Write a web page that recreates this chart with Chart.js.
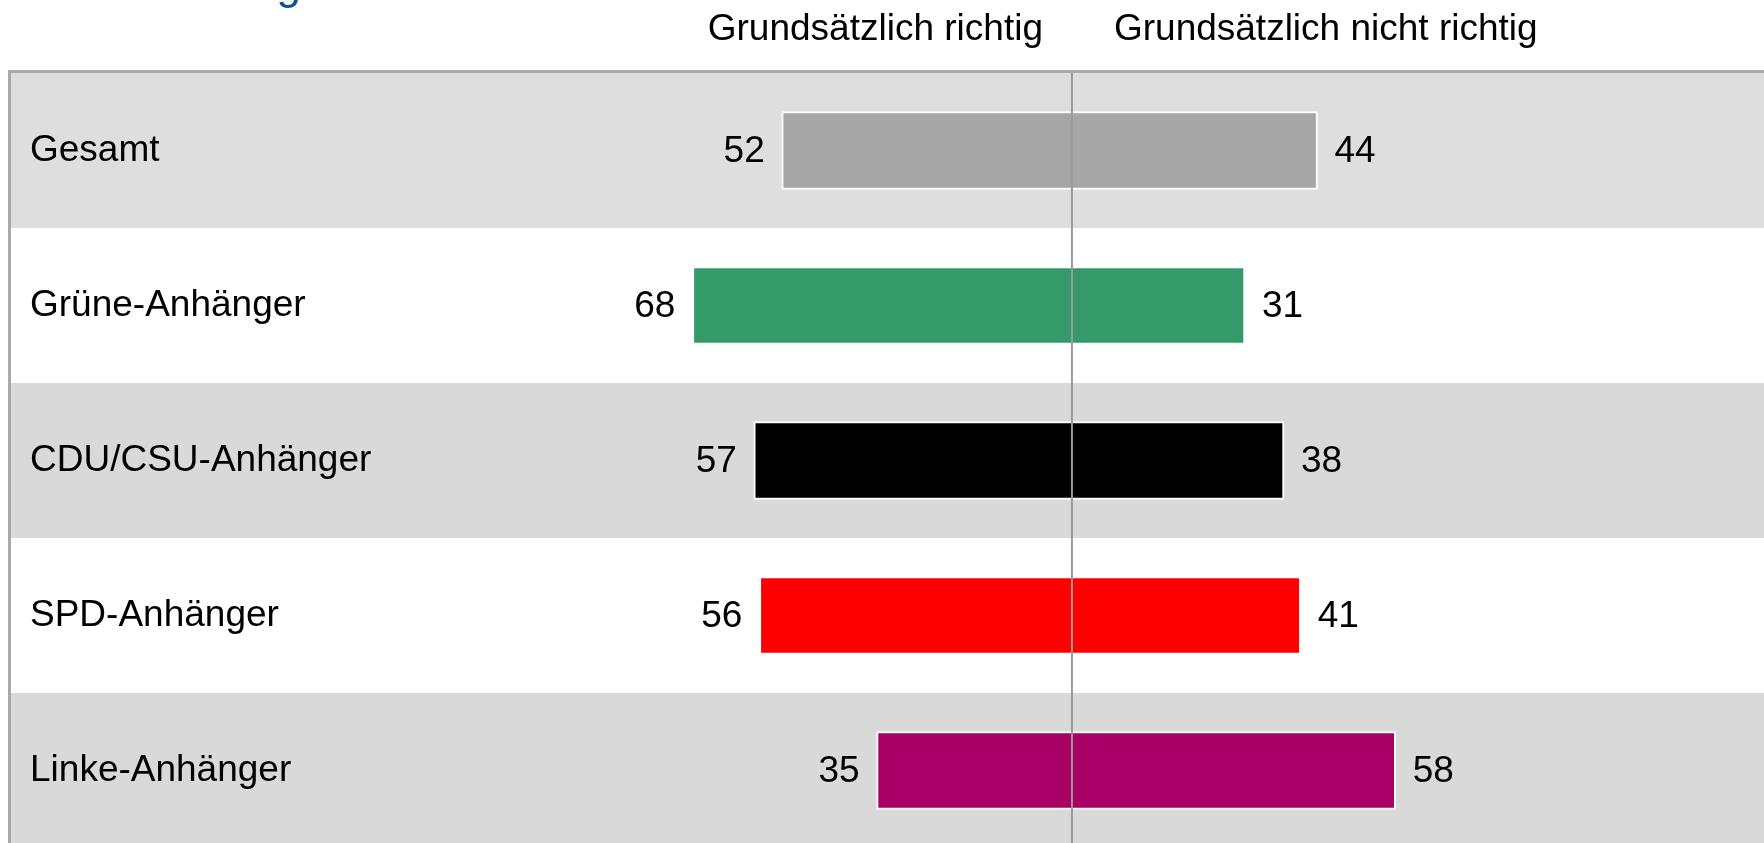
<!DOCTYPE html>
<html>
<head>
<meta charset="utf-8">
<script src="https://cdn.jsdelivr.net/npm/chart.js@4.4.1/dist/chart.umd.min.js"></script>
<style>
  html, body { margin: 0; padding: 0; background: #fff; overflow: hidden; }
  #wrap { position: relative; width: 1764px; height: 848px; }
</style>
</head>
<body>
<div id="wrap"><canvas id="chart"></canvas></div>
<script>
// data
const categories = ['Gesamt', 'Grüne-Anhänger', 'CDU/CSU-Anhänger', 'SPD-Anhänger', 'Linke-Anhänger'];
const richtig = [52, 68, 57, 56, 35];
const nichtRichtig = [44, 31, 38, 41, 58];
const barColors = ['#a6a6a6', '#359a6a', '#000000', '#ff0000', '#a80064'];
const seriesLabels = ['Grundsätzlich richtig', 'Grundsätzlich nicht richtig'];
const titleText = 'Bewertung';

const FONT = '"Liberation Sans", Arial, sans-serif';
const rowColors = ['#dedede', '#ffffff', '#d9d9d9', '#ffffff', '#d9d9d9'];

// row bands (drawn before the axis labels), border, header texts
const backdrop = {
    id: 'backdrop',
    beforeDraw(chart) {
        const { ctx, chartArea: a, scales: { y } } = chart;
        const band = (a.bottom - a.top) / categories.length;
        ctx.save();
        categories.forEach((c, i) => {
            const yc = y.getPixelForValue(i);
            ctx.fillStyle = rowColors[i];
            ctx.fillRect(a.left, yc - band / 2, a.right - a.left, band);
        });
        ctx.restore();
    },
    afterDraw(chart) {
        const { ctx, chartArea: a, scales: { x } } = chart;
        const x0 = x.getPixelForValue(0);
        ctx.save();
        // outer frame (top + left)
        ctx.strokeStyle = '#a9a9a9';
        ctx.lineWidth = 3;
        ctx.beginPath();
        ctx.moveTo(9.5, chart.height);
        ctx.lineTo(9.5, a.top - 1.5);
        ctx.lineTo(a.right, a.top - 1.5);
        ctx.stroke();
        // centre line
        ctx.strokeStyle = '#999999';
        ctx.lineWidth = 2;
        ctx.beginPath();
        ctx.moveTo(x0, a.top);
        ctx.lineTo(x0, chart.height);
        ctx.stroke();
        // column headers
        ctx.fillStyle = '#000';
        ctx.font = '37px ' + FONT;
        ctx.textBaseline = 'alphabetic';
        ctx.textAlign = 'right';
        ctx.fillText(seriesLabels[0], x0 - 29, 40);
        ctx.textAlign = 'left';
        ctx.fillText(seriesLabels[1], x0 + 42, 40);
        // cut-off title above
        ctx.fillStyle = '#0a4ea6';
        ctx.font = '44px ' + FONT;
        ctx.textAlign = 'right';
        ctx.fillText(titleText, 301, -1);
        ctx.restore();
    }
};

// value labels at bar ends
const valueLabels = {
    id: 'valueLabels',
    afterDatasetsDraw(chart) {
        const { ctx } = chart;
        ctx.save();
        ctx.font = '37px ' + FONT;
        ctx.fillStyle = '#000';
        ctx.textBaseline = 'middle';
        chart.data.datasets.forEach((ds, di) => {
            chart.getDatasetMeta(di).data.forEach((bar, i) => {
                const v = Math.abs(ds.data[i]);
                if (ds.data[i] < 0) {
                    ctx.textAlign = 'right';
                    ctx.fillText(v, bar.x - 17, bar.y + 1);
                } else {
                    ctx.textAlign = 'left';
                    ctx.fillText(v, bar.x + 17, bar.y + 1);
                }
            });
        });
        ctx.restore();
    }
};

new Chart(document.getElementById('chart'), {
    type: 'bar',
    data: {
        labels: categories,
        datasets: [
            { label: seriesLabels[0], data: richtig.map(v => -v), backgroundColor: barColors, borderColor: '#ffffff', borderWidth: 2, barThickness: 78 },
            { label: seriesLabels[1], data: nichtRichtig, backgroundColor: barColors, borderColor: '#ffffff', borderWidth: 2, barThickness: 78 }
        ]
    },
    options: {
        indexAxis: 'y',
        responsive: true,
        maintainAspectRatio: false,
        animation: false,
        layout: { padding: { left: 11, top: 73, right: 0, bottom: 0 } },
        plugins: { legend: { display: false }, tooltip: { enabled: false }, title: { display: false } },
        scales: {
            x: { stacked: true, min: -190.1, max: 124.0, display: false },
            y: {
                stacked: true,
                grid: { display: false, drawTicks: false },
                border: { display: false },
                afterFit: s => { s.width = 0; s.paddingTop = 0; s.paddingBottom = 0; },
                ticks: { mirror: true, padding: 19, color: '#000', font: { family: FONT, size: 37 } }
            }
        }
    },
    plugins: [backdrop, valueLabels]
});
</script>
</body>
</html>
